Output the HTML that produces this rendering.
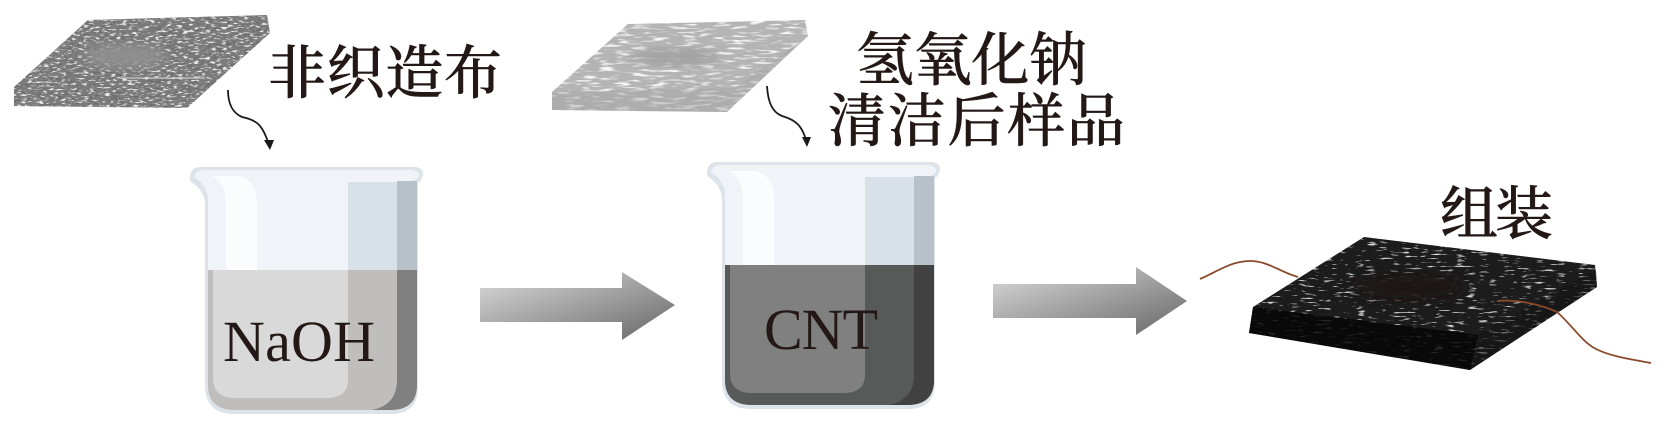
<!DOCTYPE html>
<html lang="zh">
<head>
<meta charset="utf-8">
<title>Diagram</title>
<style>
html,body{margin:0;padding:0;background:#fff;width:1664px;height:426px;overflow:hidden}
svg{display:block}
.cn{font-family:"Liberation Serif","Noto Serif CJK SC",serif;font-size:58px;fill:#231815;font-weight:500;stroke:#231815;stroke-width:.5}
.en{font-family:"Liberation Serif",serif;font-size:58px;fill:#231815}
</style>
</head>
<body>
<svg width="1664" height="426" viewBox="0 0 1664 426" xmlns="http://www.w3.org/2000/svg">
<defs>
<linearGradient id="ag" x1="0" y1="0" x2="1" y2="1">
<stop offset="0" stop-color="#dcdcdc"/>
<stop offset="1" stop-color="#666"/>
</linearGradient>
<filter id="tex1" x="0" y="0" width="100%" height="100%">
<feTurbulence type="fractalNoise" baseFrequency="0.16 0.5" numOctaves="2" seed="4" result="n"/>
<feColorMatrix in="n" type="matrix" values="0 0 0 0 .15  0 0 0 0 .15  0 0 0 0 .15  4 4 0 0 -4.1" result="d"/>
<feComposite in="d" in2="SourceAlpha" operator="in" result="c"/>
<feTurbulence type="fractalNoise" baseFrequency="0.18 0.55" numOctaves="2" seed="21" result="m"/>
<feColorMatrix in="m" type="matrix" values="0 0 0 0 .85  0 0 0 0 .85  0 0 0 0 .85  4 4 0 0 -4.3" result="e"/>
<feComposite in="e" in2="SourceAlpha" operator="in" result="f"/>
<feMerge><feMergeNode in="SourceGraphic"/><feMergeNode in="c"/><feMergeNode in="f"/></feMerge>
</filter>
<filter id="tex2" x="0" y="0" width="100%" height="100%">
<feTurbulence type="fractalNoise" baseFrequency="0.06 0.4" numOctaves="2" seed="9" result="n"/>
<feColorMatrix in="n" type="matrix" values="0 0 0 0 .93  0 0 0 0 .93  0 0 0 0 .93  3 3 0 0 -3.1" result="d"/>
<feComposite in="d" in2="SourceAlpha" operator="in" result="c"/>
<feMerge><feMergeNode in="SourceGraphic"/><feMergeNode in="c"/></feMerge>
</filter>
<filter id="tex3" x="0" y="0" width="100%" height="100%">
<feTurbulence type="fractalNoise" baseFrequency="0.09 0.5" numOctaves="2" seed="15" result="n"/>
<feColorMatrix in="n" type="matrix" values="0 0 0 0 .8  0 0 0 0 .8  0 0 0 0 .8  3 3 0 0 -3.6" result="d"/>
<feComposite in="d" in2="SourceAlpha" operator="in" result="c"/>
<feMerge><feMergeNode in="SourceGraphic"/><feMergeNode in="c"/></feMerge>
</filter>
<filter id="bl"><feGaussianBlur stdDeviation="6"/></filter>
</defs>
<rect width="1664" height="426" fill="#fff"/>

<!-- slab 1 -->
<g>
<polygon points="88,20 267,15 270,33 187,108 14,106 14,87" fill="#7c7c7c" filter="url(#tex1)"/>
<ellipse cx="125" cy="56" rx="42" ry="13" fill="#8e8e8e" filter="url(#bl)"/>
<path d="M120 78 L205 78" stroke="#e8e8e8" stroke-width="1.5" opacity=".6"/>
</g>

<!-- slab 2 -->
<g>
<polygon points="628,24 805,20 808,36 727,112 552,110 552,92" fill="#b4b4b4" filter="url(#tex2)"/>
<polygon points="552,92 735,88 808,36 727,112 552,110" fill="#a4a4a4" opacity=".45"/>
<ellipse cx="675" cy="57" rx="45" ry="9" fill="#a0a0a0" filter="url(#bl)"/>
</g>

<!-- slab 3 -->
<g>
<polygon points="1364,237 1595,265 1597,287 1470,370 1249,333 1253,307" fill="#1e1e1e" filter="url(#tex3)"/>
<polygon points="1253,307 1478,335 1470,370 1249,333" fill="#060606" opacity=".85"/>
<polygon points="1478,335 1596,270 1597,287 1470,370" fill="#141414" opacity=".55"/>
<ellipse cx="1410" cy="287" rx="55" ry="16" fill="#1a1818" filter="url(#bl)"/>
</g>

<!-- wires -->
<path d="M1200 279 C1220 270 1232 261 1250 261 C1268 261 1280 272 1298 277" fill="none" stroke="#8a4a2a" stroke-width="1.8"/>
<path d="M1497 301 C1515 299 1540 304 1557 312 C1572 325 1582 342 1596 349 C1612 357 1635 360 1651 363" fill="none" stroke="#8a4a2a" stroke-width="1.8"/>

<!-- small arrows -->
<path d="M228 90 C228 105 233 113 242 117 C256 120 262 124 268 142" fill="none" stroke="#1a1a1a" stroke-width="1.8"/>
<polygon points="264,140 274,140 270,150" fill="#1a1a1a"/>
<path d="M767 86 C768 102 772 112 782 116 C796 120 802 126 806 140" fill="none" stroke="#1a1a1a" stroke-width="1.8"/>
<polygon points="802,137 811,137 807,147" fill="#1a1a1a"/>

<!-- big arrows -->
<polygon points="480,288 622,288 622,272 675,305 622,340 622,322 480,322" fill="url(#ag)"/>
<polygon points="993,284 1136,284 1136,267 1187,301 1136,335 1136,318 993,318" fill="url(#ag)"/>

<!-- beaker 1 -->
<g>
<path d="M190 176 Q191 168 199 167 H415 Q424 168 423 175 Q421 182 418 183 V387 Q418 413 393 414 H232 Q206 413 205 387 V203 Q204 190 190 181 Z" fill="#dde4e9"/>
<path d="M208 200 Q208 186 194 177 Q196 171 203 170 H412 Q420 172 419 176 Q417 180 412 181 L417 183 V270 H208 Z" fill="#f0f4f8"/>
<path d="M226 270 V205 Q226 184 213 176 H238 Q257 180 257 205 V270 Z" fill="#fbfcfd"/>
<path d="M348 182 H397 V270 H348 Z" fill="#d9e1e8"/>
<path d="M397 181 H417 V270 H397 Z" fill="#b8c1c9"/>
<path d="M208 270 H417 V385 Q417 409 392 410 H233 Q208 409 208 385 Z" fill="#bfbebc"/>
<path d="M213 270 H348 V380 Q348 398 326 398 H235 Q213 398 213 378 Z" fill="#d9d9d9"/>
<path d="M397 270 H417 V385 Q417 409 392 410 H372 Q397 405 397 380 Z" fill="#808080"/>
</g>

<!-- beaker 2 -->
<g transform="translate(517,-5)">
<path d="M190 176 Q191 168 199 167 H415 Q424 168 423 175 Q421 182 418 183 V387 Q418 413 393 414 H232 Q206 413 205 387 V203 Q204 190 190 181 Z" fill="#dde4e9"/>
<path d="M208 200 Q208 186 194 177 Q196 171 203 170 H412 Q420 172 419 176 Q417 180 412 181 L417 183 V270 H208 Z" fill="#f0f4f8"/>
<path d="M226 270 V205 Q226 184 213 176 H238 Q257 180 257 205 V270 Z" fill="#fbfcfd"/>
<path d="M348 182 H397 V270 H348 Z" fill="#d9e1e8"/>
<path d="M397 181 H417 V270 H397 Z" fill="#b8c1c9"/>
<path d="M208 270 H417 V385 Q417 409 392 410 H233 Q208 409 208 385 Z" fill="#585a59"/>
<path d="M213 270 H348 V380 Q348 398 326 398 H235 Q213 398 213 378 Z" fill="#808080"/>
<path d="M397 270 H417 V385 Q417 409 392 410 H372 Q397 405 397 380 Z" fill="#414141"/>
</g>

<!-- labels -->
<text class="en" x="223" y="361" textLength="152">NaOH</text>
<text class="en" x="764" y="349" textLength="114">CNT</text>
<text class="cn" x="268" y="93" textLength="234">非织造布</text>
<text class="cn" x="856" y="80" textLength="231">氢氧化钠</text>
<text class="cn" x="828" y="141" textLength="297">清洁后样品</text>
<text class="cn" x="1440" y="234" textLength="113">组装</text>
</svg>
</body>
</html>
